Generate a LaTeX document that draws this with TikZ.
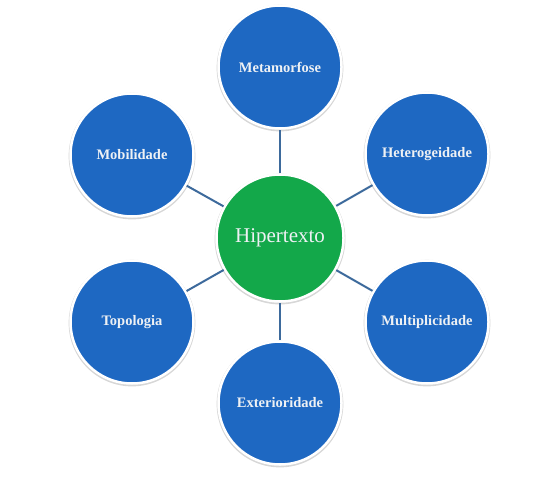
\documentclass[tikz,border=0pt]{standalone}
\usepackage{fontspec}
\usepackage{tikz}
\usetikzlibrary{shadows}
\setmainfont{Liberation Serif}
\definecolor{topic_blue}{HTML}{1E68C2}
\definecolor{hub_green}{HTML}{13A84A}
\definecolor{link_blue}{HTML}{3D6A9C}
\definecolor{label_white}{HTML}{EEF1F4}
\tikzset{
  topic/.style={circle,fill=topic_blue,draw=white,line width=2.5pt,minimum size=123pt,inner sep=0,
    text=label_white,font=\fontsize{14.5}{16}\selectfont\bfseries,
    general shadow={fill=black!45,shadow scale=1.03,shadow yshift=-1pt,opacity=0.35}},
  hub/.style={circle,fill=hub_green,draw=white,line width=2.5pt,minimum size=127pt,inner sep=0,
    text=label_white,font=\fontsize{21}{23}\selectfont,
    general shadow={fill=black!45,shadow scale=1.03,shadow yshift=-1pt,opacity=0.35}},
  link/.style={link_blue,line width=2pt}
}

\begin{document}
\begin{tikzpicture}[x=1pt,y=1pt]
    \useasboundingbox (0,0) rectangle (545,480);
    \node[hub] (hiper) at (280,242) {Hipertexto};
    \node[topic] (meta) at (280,413) {Metamorfose};
    \node[topic] (hetero) at (427,326) {Heterogeidade};
    \node[topic] (multi) at (427,158) {Multiplicidade};
    \node[topic] (exter) at (280,77) {Exterioridade};
    \node[topic] (topo) at (132,158) {Topologia};
    \node[topic] (mobi) at (132,325) {Mobilidade};
    \draw[link] (hiper) -- (meta);
    \draw[link] (hiper) -- (hetero);
    \draw[link] (hiper) -- (multi);
    \draw[link] (hiper) -- (exter);
    \draw[link] (hiper) -- (topo);
    \draw[link] (hiper) -- (mobi);
  \end{tikzpicture}
\end{document}
